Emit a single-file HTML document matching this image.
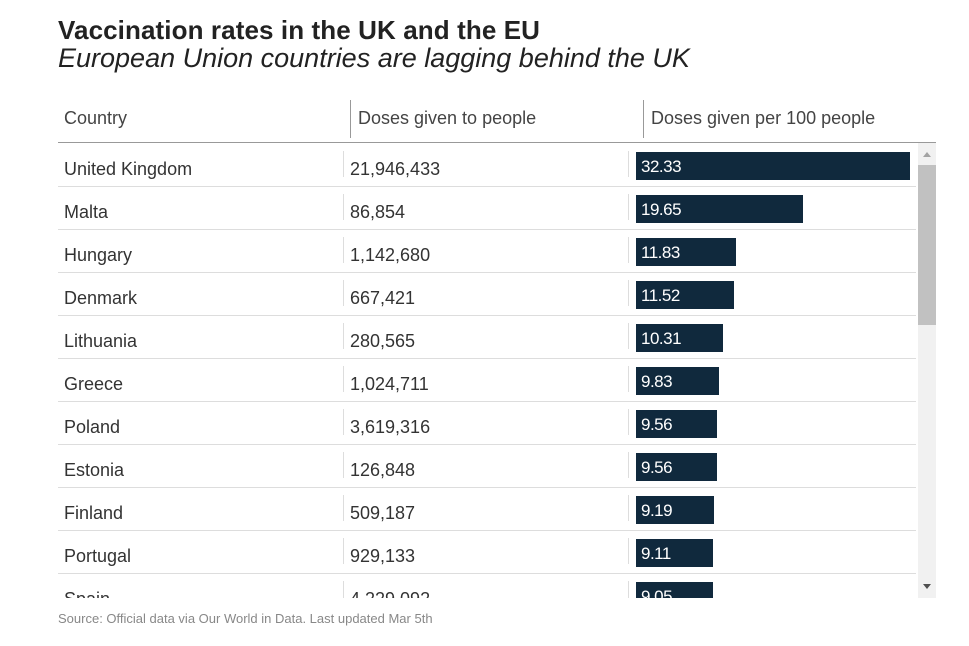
<!DOCTYPE html>
<html><head><meta charset="utf-8"><style>
body{margin:0;background:#fff;width:969px;height:646px;overflow:hidden;font-family:"Liberation Sans",sans-serif;position:relative;color:#333}
.t{position:absolute;left:58px;top:15px;font-size:26px;font-weight:bold;color:#222;letter-spacing:0.1px}
.s{position:absolute;left:58px;top:43px;font-size:27px;font-style:italic;color:#222;letter-spacing:0}
.h{position:absolute;top:100px;height:38px;font-size:18px;color:#444;line-height:36px}
.hl{position:absolute;left:58px;width:878px;top:142px;height:1px;background:#999}
#box{position:absolute;left:58px;top:143px;width:878px;height:455px;overflow:hidden}
.row{position:absolute;left:0;width:858px;height:43px;border-bottom:1px solid #ddd;font-size:18px}
.c{position:absolute;top:16px}
.sep{position:absolute;top:8px;width:1px;height:26px;background:#ddd}
.bar{position:absolute;left:578px;top:9px;height:28px;background:#10293d;color:#fff;font-size:17px;line-height:30px;text-indent:5px;letter-spacing:-0.5px}
.sb{position:absolute;left:918px;top:143px;width:18px;height:455px;background:#f1f1f1}
.th{position:absolute;left:918px;top:165px;width:18px;height:160px;background:#c1c1c1}
.src{position:absolute;left:58px;top:611px;font-size:13px;color:#888}
</style></head><body>
<div class="t">Vaccination rates in the UK and the EU</div>
<div class="s">European Union countries are lagging behind the UK</div>
<div class="h" style="left:64px">Country</div>
<div class="h" style="left:350px;border-left:1px solid #999;padding-left:7px">Doses given to people</div>
<div class="h" style="left:643px;border-left:1px solid #999;padding-left:7px">Doses given per 100 people</div>
<div class="hl"></div>
<div id="box"></div>
<div class="sb"><div style="position:absolute;left:5px;top:9px;border:4px solid transparent;border-bottom:5px solid #a3a3a3;border-top:0"></div><div style="position:absolute;left:5px;bottom:9px;border:4px solid transparent;border-top:5px solid #505050;border-bottom:0"></div></div>
<div class="th"></div>
<div class="src">Source: Official data via Our World in Data. Last updated Mar 5th</div>
<script>
const countries=["United Kingdom","Malta","Hungary","Denmark","Lithuania","Greece","Poland","Estonia","Finland","Portugal","Spain"];
const doses=["21,946,433","86,854","1,142,680","667,421","280,565","1,024,711","3,619,316","126,848","509,187","929,133","4,229,092"];
const per100=[32.33,19.65,11.83,11.52,10.31,9.83,9.56,9.56,9.19,9.11,9.05];
const box=document.getElementById('box');
const x=v=>v*274/32.33;
countries.forEach((c,i)=>{
 const r=document.createElement('div');r.className='row';r.style.top=(i*43)+'px';
 
 
 r.innerHTML='<div class="c" style="left:6px">'+c+'</div><div class="sep" style="left:285px"></div><div class="c" style="left:292px">'+doses[i]+'</div><div class="sep" style="left:570px"></div>';
 const b=document.createElement('div');b.className='bar';b.style.width=x(per100[i])+'px';b.textContent=per100[i].toFixed(2);
 
 
 r.appendChild(b);box.appendChild(r);
});
</script>
</body></html>
